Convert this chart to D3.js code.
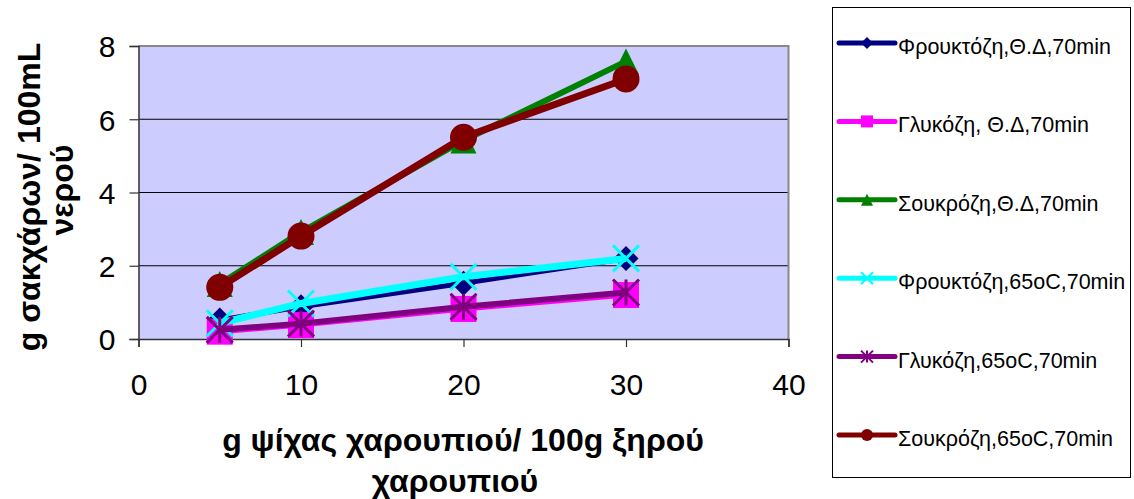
<!DOCTYPE html>
<html>

<head>
  <meta charset="utf-8">
  <script src="https://d3js.org/d3.v7.min.js"></script>
  <style>
    body {
      margin: 0;
      background: #fff;
      font-family: "Liberation Sans", Arial, sans-serif;
    }
  </style>
</head>

<body>
  <div id="chart"></div>
  <script>
    // data
    var xValues = [5, 10, 20, 30];
    var seriesNames = [
      "Φρουκτόζη,Θ.Δ,70min",
      "Γλυκόζη, Θ.Δ,70min",
      "Σουκρόζη,Θ.Δ,70min",
      "Φρουκτόζη,65oC,70min",
      "Γλυκόζη,65oC,70min",
      "Σουκρόζη,65oC,70min"
    ];
    var fructoseTD = [0.52, 0.88, 1.52, 2.2];
    var glucoseTD = [0.2, 0.38, 0.82, 1.2];
    var sucroseTD = [1.5, 2.92, 5.42, 7.58];
    var fructose65 = [0.43, 0.97, 1.7, 2.2];
    var glucose65 = [0.25, 0.42, 0.88, 1.27];
    var sucrose65 = [1.41, 2.81, 5.51, 7.1];
    var xTicks = [0, 10, 20, 30, 40];
    var yTicks = [0, 2, 4, 6, 8];

    var seriesValues = [fructoseTD, glucoseTD, sucroseTD, fructose65, glucose65, sucrose65];
    var colors = ["#000080", "#ff00ff", "#008000", "#00ffff", "#800080", "#800000"];
    var markers = ["diamond", "square", "triangle", "cross", "star", "circle"];
    var lineWidths = [5, 5, 6, 7, 6, 7];

    var width = 1134, height = 499;
    var plot = { left: 138.5, right: 788.5, top: 46, bottom: 339 };

    var svg = d3.select("#chart").append("svg")
      .attr("width", width)
      .attr("height", height);

    var x = d3.scaleLinear().domain([0, 40]).range([plot.left, plot.right]);
    var y = d3.scaleLinear().domain([0, 8]).range([plot.bottom, plot.top]);

    // plot background
    svg.append("rect")
      .attr("x", plot.left).attr("y", plot.top)
      .attr("width", plot.right - plot.left)
      .attr("height", plot.bottom - plot.top)
      .attr("fill", "#ccccff");

    // gridlines
    svg.append("g").selectAll("line")
      .data(yTicks.filter(t => t > 0 && t < 8))
      .join("line")
      .attr("x1", plot.left).attr("x2", plot.right)
      .attr("y1", d => y(d)).attr("y2", d => y(d))
      .attr("stroke", "#000").attr("stroke-width", 1);

    // frame (top + right grey)
    svg.append("path")
      .attr("d", "M" + plot.left + "," + plot.top + "H" + plot.right + "V" + plot.bottom)
      .attr("fill", "none").attr("stroke", "#888").attr("stroke-width", 2);

    // axes
    var xAxis = d3.axisBottom(x).tickValues(xTicks).tickSize(8).tickPadding(27);
    var yAxis = d3.axisLeft(y).tickValues(yTicks).tickSize(9).tickPadding(14);

    var gx = svg.append("g").attr("transform", "translate(0," + plot.bottom + ")").call(xAxis);
    var gy = svg.append("g").attr("transform", "translate(" + plot.left + ",0)").call(yAxis);

    [gx, gy].forEach(g => {
      g.select(".domain").attr("stroke", "#333").attr("stroke-width", 1.5);
      g.selectAll(".tick line").attr("stroke", "#333").attr("stroke-width", 1.2);
      g.selectAll("text")
        .attr("fill", "#000")
        .style("font-family", "'Liberation Sans', Arial, sans-serif")
        .style("font-size", "30px");
    });
    gx.selectAll("text").attr("dy", "0.71em");
    gy.selectAll("text").attr("dy", "0.36em");

    // marker shapes
    function markerPath(type, s) {
      switch (type) {
        case "diamond":
          return "M0," + (-s) + "L" + s + ",0L0," + s + "L" + (-s) + ",0Z";
        case "square":
          return "M" + (-s) + "," + (-s) + "H" + s + "V" + s + "H" + (-s) + "Z";
        case "triangle":
          return "M0," + (-s) + "L" + s + "," + s + "H" + (-s) + "Z";
        case "cross":
          return "M" + (-s) + "," + (-s) + "L" + s + "," + s + "M" + s + "," + (-s) + "L" + (-s) + "," + s;
        case "star":
          return "M" + (-s) + "," + (-s) + "L" + s + "," + s + "M" + s + "," + (-s) + "L" + (-s) + "," + s +
            "M0," + (-s) + "V" + s;
        case "circle":
          return "M" + (-s) + ",0A" + s + "," + s + " 0 1,0 " + s + ",0A" + s + "," + s + " 0 1,0 " + (-s) + ",0Z";
      }
    }

    function styleMarker(sel, i) {
      var open = markers[i] === "cross" || markers[i] === "star";
      sel.attr("fill", open ? "none" : colors[i])
        .attr("stroke", open ? colors[i] : "none")
        .attr("stroke-width", open ? 3 : 0);
    }

    var markerSize = [12.5, 13, 13, 13, 13, 13.5];

    var line = d3.line()
      .x(d => x(d[0]))
      .y(d => y(d[1]));

    seriesValues.forEach((vals, i) => {
      var pts = vals.map((v, k) => [xValues[k], v]);
      var g = svg.append("g").attr("class", "series");
      g.append("path")
        .attr("d", line(pts))
        .attr("fill", "none")
        .attr("stroke", colors[i])
        .attr("stroke-width", lineWidths[i])
        .attr("stroke-linejoin", "round");
      g.selectAll(".mark")
        .data(pts)
        .join("path")
        .attr("class", "mark")
        .attr("transform", d => "translate(" + x(d[0]) + "," + y(d[1]) + ")")
        .attr("d", markerPath(markers[i], markerSize[i]))
        .call(styleMarker, i);
    });

    // axis titles
    var xTitle = svg.append("text")
      .attr("text-anchor", "middle")
      .style("font-weight", "bold")
      .style("font-size", "32px");
    xTitle.append("tspan").attr("x", 463).attr("y", 451).text("g ψίχας χαρουπιού/ 100g ξηρού");
    xTitle.append("tspan").attr("x", 455).attr("y", 492).text("χαρουπιού");

    var yTitle = svg.append("text")
      .attr("text-anchor", "middle")
      .attr("transform", "rotate(-90)")
      .style("font-weight", "bold")
      .style("font-size", "32px");
    yTitle.append("tspan").attr("x", -197).attr("y", 40).text("g σακχάρων/ 100mL");
    yTitle.append("tspan").attr("x", -190).attr("y", 73).text("νερού");

    // legend
    var legend = svg.append("g");
    legend.append("rect")
      .attr("x", 832.5).attr("y", 7.5)
      .attr("width", 298).attr("height", 470)
      .attr("fill", "#fff")
      .attr("stroke", "#000").attr("stroke-width", 1);

    var legendY = d3.scaleLinear().domain([0, 5]).range([43, 435]);

    var item = legend.selectAll(".item")
      .data(seriesNames)
      .join("g")
      .attr("class", "item")
      .attr("transform", (d, i) => "translate(0," + legendY(i) + ")");

    item.append("line")
      .attr("x1", 839).attr("x2", 895)
      .attr("stroke", (d, i) => colors[i])
      .attr("stroke-width", 5)
      .attr("stroke-linecap", "round");

    item.append("path")
      .attr("transform", "translate(867,0)")
      .attr("d", (d, i) => markerPath(markers[i], 6))
      .each(function (d, i) { d3.select(this).call(styleMarker, i); })
      .attr("stroke-width", (d, i) => (markers[i] === "cross" || markers[i] === "star") ? 2 : 0);

    item.append("text")
      .attr("x", 898)
      .attr("y", 11)
      .style("font-size", "21.5px")
      .text(d => d);
  </script>
</body>

</html>
